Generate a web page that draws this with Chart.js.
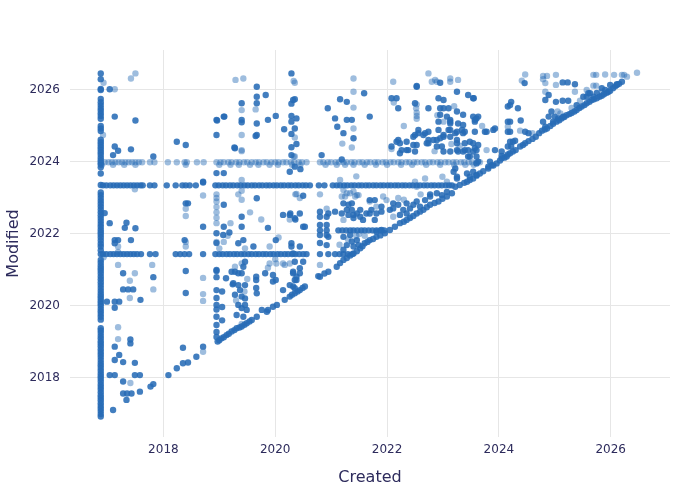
<!DOCTYPE html>
<html>
<head>
<meta charset="utf-8">
<script src="https://cdn.jsdelivr.net/npm/chart.js@4.4.1/dist/chart.umd.min.js"></script>
<style>
html,body{margin:0;padding:0;background:#fff;}
#wrap{width:700px;height:500px;}
</style>
</head>
<body>
<div id="wrap"><canvas id="c" width="700" height="500"></canvas></div>
<script>
// ---------- data (Created, Modified as decimal years) ----------
const xTicks = [2018, 2020, 2022, 2024, 2026];
const yTicks = [2018, 2020, 2022, 2024, 2026];

// vertical column of items created ~2016.88
const columnCreated = 2016.88;
const columnModified = [2016.93,2017.0,2017.08,2017.15,2017.22,2017.3,2017.38,2017.45,2017.52,2017.6,2017.68,2017.75,2017.82,2017.9,2017.98,2018.05,2018.12,2018.2,2018.28,2018.35,2018.42,2018.5,2018.58,2018.65,2018.72,2018.8,2018.88,2018.95,2019.02,2019.1,2019.17,2019.25,2019.32,2019.38,2019.62,2019.7,2019.78,2019.85,2019.92,2020.0,2020.06,2020.13,2020.2,2020.27,2020.34,2020.42,2020.5,2020.58,2020.66,2020.74,2020.82,2020.9,2020.98,2021.05,2021.12,2021.2,2021.28,2021.44,2021.55,2021.65,2021.73,2021.82,2021.9,2021.98,2022.05,2022.12,2022.2,2022.28,2022.36,2022.44,2022.52,2022.6,2022.68,2022.76,2022.84,2022.92,2023.0,2023.08,2023.15,2023.36,2023.68,2023.85,2023.93,2023.98,2024.05,2024.12,2024.2,2024.27,2024.34,2024.41,2024.48,2024.55,2024.62,2024.86,2024.93,2025.0,2025.2,2025.28,2025.35,2025.43,2025.5,2025.58,2025.66,2025.75,2026.0,2026.03,2026.3,2026.46];

// horizontal bands (many items modified on the same date)
const bandTopModified = 2023.99;
const bandTopCreated = [2016.95,2017.02,2017.08,2017.14,2017.2,2017.26,2017.32,2017.38,2017.44,2017.5,2017.56,2017.62,2017.76,2017.84,2018.08,2018.24,2018.38,2018.42,2018.6,2018.72,2018.95,2019.02,2019.08,2019.16,2019.22,2019.3,2019.36,2019.44,2019.5,2019.58,2019.65,2019.71,2019.79,2019.85,2019.93,2020.0,2020.06,2020.14,2020.2,2020.28,2020.34,2020.42,2020.48,2020.56,2020.8,2020.86,2020.94,2021.0,2021.08,2021.14,2021.22,2021.28,2021.36,2021.42,2021.5,2021.56,2021.64,2021.7,2021.78,2021.84,2021.92,2021.98,2022.06,2022.12,2022.2,2022.26,2022.34,2022.4,2022.48,2022.54,2022.62,2022.68,2022.76,2022.82,2022.9,2022.96,2023.04,2023.1,2023.18,2023.24,2023.32,2023.38,2023.46,2023.52,2023.6,2023.66];
const bandTop2Modified = 2023.92;
const bandTop2Created = [2016.9,2017.1,2017.3,2017.5,2018.4,2019.0,2019.2,2019.35,2019.55,2019.7,2019.9,2020.05,2020.3,2020.45,2020.9,2021.1,2021.25,2021.4,2021.6,2021.8,2022.0,2022.25,2022.45,2022.7,2022.95,2023.2,2023.4,2023.55];
const bandMidModified = 2023.35;
const bandMidCreated = [2016.92,2016.98,2017.05,2017.11,2017.17,2017.23,2017.29,2017.35,2017.41,2017.47,2017.53,2017.59,2017.63,2017.76,2017.84,2018.06,2018.22,2018.34,2018.4,2018.47,2018.58,2018.93,2018.99,2019.06,2019.12,2019.19,2019.25,2019.32,2019.38,2019.45,2019.51,2019.58,2019.64,2019.71,2019.77,2019.84,2019.9,2019.97,2020.03,2020.1,2020.16,2020.23,2020.29,2020.36,2020.42,2020.49,2020.55,2020.62,2020.78,2020.88,2021.03,2021.1,2021.16,2021.23,2021.29,2021.36,2021.42,2021.49,2021.55,2021.62,2021.68,2021.75,2021.81,2021.88,2021.94,2022.01,2022.07,2022.14,2022.2,2022.27,2022.33,2022.4,2022.46,2022.53,2022.59,2022.66,2022.72,2022.79,2022.85,2022.92,2022.98,2023.05,2023.11,2023.16];
const bandLowModified = 2021.44;
const bandLowCreated = [2016.92,2016.98,2017.05,2017.11,2017.17,2017.23,2017.29,2017.35,2017.41,2017.47,2017.53,2017.6,2017.76,2017.86,2018.22,2018.3,2018.38,2018.46,2018.71,2018.93,2019.0,2019.06,2019.13,2019.19,2019.26,2019.32,2019.39,2019.45,2019.52,2019.58,2019.65,2019.71,2019.78,2019.84,2019.91,2019.97,2020.04,2020.1,2020.17,2020.23,2020.3,2020.36,2020.43,2020.5,2020.56,2020.8,2020.95,2021.07,2021.15,2021.22,2021.3,2021.38];
const band2022Modified = 2022.1;
const band2022Created = [2020.8,2020.92,2021.13,2021.2,2021.27,2021.34,2021.4,2021.47,2021.54,2021.6,2021.67,2021.74,2021.81,2021.88,2021.95];

// items modified right after creation
const diagonalPts = [[2017.34,2017.39],[2017.77,2017.76],[2017.82,2017.83],[2018.09,2018.08],[2018.24,2018.27],[2018.35,2018.41],[2018.44,2018.43],[2018.59,2018.59],
[2018.97,2019.01],[2019.0,2019.05],[2019.04,2019.10],[2019.08,2019.13],[2019.13,2019.19],[2019.17,2019.23],[2019.22,2019.29],[2019.27,2019.33],[2019.31,2019.38],[2019.36,2019.4],[2019.40,2019.43],[2019.45,2019.48],[2019.49,2019.52],[2019.54,2019.57],[2019.58,2019.61],[2019.67,2019.70],[2019.76,2019.89],[2019.85,2019.84],[2019.96,2019.98],[2020.03,2020.03],[2020.17,2020.17],[2020.26,2020.26],[2020.3,2020.31],[2020.35,2020.35],[2020.4,2020.4],[2020.44,2020.44],[2020.49,2020.5],[2020.53,2020.54],[2020.77,2020.83],[2020.80,2020.81],[2020.88,2020.9],[2020.95,2020.95],
[2021.10,2021.09],[2021.16,2021.19],[2021.22,2021.28],[2021.28,2021.33],[2021.34,2021.4],[2021.40,2021.46],[2021.46,2021.52],[2021.52,2021.6],[2021.56,2021.66],[2021.60,2021.74],[2021.65,2021.78],[2021.69,2021.83],[2021.75,2021.86],[2021.81,2021.92],[2021.88,2021.96],[2021.96,2022.02],[2022.05,2022.11],[2022.14,2022.20],[2022.23,2022.30],[2022.3,2022.34],[2022.35,2022.39],[2022.41,2022.44],[2022.47,2022.5],[2022.53,2022.57],[2022.59,2022.62],[2022.65,2022.67],[2022.71,2022.74],[2022.77,2022.81],[2022.85,2022.86],[2022.92,2022.90],[2022.99,2022.98],[2023.07,2023.04],[2023.16,2023.13],
[2023.22,2023.31],[2023.3,2023.36],[2023.38,2023.42],[2023.43,2023.45],[2023.48,2023.5],[2023.54,2023.54],[2023.6,2023.62],[2023.66,2023.68],[2023.72,2023.74],[2023.81,2023.82],[2023.9,2023.9],[2023.96,2023.96],[2024.02,2024.04],[2024.05,2024.10],[2024.1,2024.12],[2024.14,2024.15],[2024.2,2024.24],[2024.25,2024.29],[2024.3,2024.33],[2024.38,2024.43],[2024.43,2024.47],[2024.47,2024.52],[2024.53,2024.58],[2024.6,2024.64],[2024.66,2024.7],[2024.72,2024.8],[2024.77,2024.87],[2024.82,2024.9],[2024.86,2024.93],[2024.92,2025.0],[2024.97,2025.06],[2025.03,2025.12],[2025.08,2025.16],[2025.12,2025.21],[2025.17,2025.25],[2025.21,2025.3],[2025.26,2025.33],[2025.30,2025.36],[2025.35,2025.4],[2025.39,2025.44],[2025.44,2025.5],[2025.48,2025.54],[2025.53,2025.58],[2025.57,2025.63],[2025.62,2025.67],[2025.66,2025.72],[2025.7,2025.74],[2025.75,2025.77],[2025.8,2025.81],[2025.84,2025.84],[2025.88,2025.88],[2025.93,2025.92],[2025.96,2025.95],[2025.99,2025.98],[2026.04,2026.05],[2026.08,2026.1],[2026.11,2026.14],[2026.15,2026.17]];

// scattered items drawn as repeated (darker) marks
const denseItems = [[2017.04,2026.02],[2017.13,2025.26],[2017.50,2025.15],[2017.13,2024.43],[2017.19,2024.31],[2017.10,2024.19],[2017.42,2024.35],[2017.82,2024.15],[2016.95,2022.58],[2017.04,2022.30],[2017.31,2022.17],[2017.34,2022.31],[2017.50,2022.16],[2017.13,2021.83],[2017.19,2021.83],[2017.42,2021.83],[2017.13,2021.74],[2017.28,2020.91],[2017.28,2020.46],[2017.37,2020.46],[2017.46,2020.46],[2017.59,2020.17],[2016.99,2020.12],[2017.13,2020.12],[2017.21,2020.12],[2017.13,2019.95],[2017.82,2020.80],[2017.13,2018.87],[2017.41,2019.07],[2017.41,2018.96],[2017.21,2018.64],[2017.13,2018.50],[2017.28,2018.44],[2017.49,2018.42],[2017.04,2018.08],[2017.13,2018.08],[2017.49,2018.08],[2017.58,2018.08],[2017.28,2017.90],[2017.28,2017.57],[2017.35,2017.57],[2017.43,2017.57],[2017.10,2017.11],[2017.58,2017.62],
[2018.24,2024.56],[2018.40,2024.47],[2018.40,2022.85],[2018.44,2022.85],[2018.71,2023.45],[2018.71,2022.20],[2018.38,2021.83],[2018.40,2020.97],[2018.40,2020.36],[2018.71,2018.87],[2018.35,2018.84],
[2018.95,2024.75],[2018.95,2025.17],[2019.08,2025.26],[2018.95,2023.69],[2019.08,2023.69],[2019.08,2022.81],[2019.08,2022.20],[2018.95,2022.02],[2019.07,2021.97],[2019.18,2022.04],[2019.27,2024.40],[2019.40,2025.63],[2019.40,2025.10],[2019.67,2026.09],[2019.67,2025.81],[2019.67,2025.63],[2019.67,2025.07],[2019.67,2024.75],[2019.83,2025.86],[2019.87,2025.17],[2020.01,2025.28],[2019.67,2022.99],[2019.40,2022.48],[2019.40,2022.2],[2019.43,2021.83],[2019.87,2022.17],[2020.01,2021.83],[2020.16,2024.91],[2020.29,2026.46],[2020.32,2025.72],[2020.29,2025.62],[2020.35,2025.74],[2020.29,2025.28],[2020.38,2025.21],[2020.29,2025.12],[2020.29,2024.78],[2020.35,2024.93],[2020.29,2024.41],[2020.38,2024.50],[2020.29,2024.19],[2020.26,2023.73],[2020.35,2023.87],[2020.45,2023.80],[2020.27,2022.57],[2020.36,2022.4],[2020.29,2021.65],[2020.44,2021.65],[2020.50,2022.20],[2019.28,2024.38],[2018.95,2021.0],[2019.22,2020.95],[2019.28,2020.95],[2019.12,2020.77],[2019.24,2020.6],[2018.95,2021.75],[2018.95,2020.97],[2018.95,2020.8],[2018.95,2020.44],[2019.05,2020.4],[2018.95,2020.22],[2018.95,2020.03],[2019.05,2019.97],[2018.95,2019.9],[2018.95,2019.7],[2019.05,2019.6],[2018.95,2019.47],[2018.95,2019.28],[2018.95,2019.14],[2019.34,2020.91],[2019.40,2020.91],[2019.25,2020.63],[2019.34,2020.58],[2019.46,2020.58],[2019.37,2020.44],[2019.28,2020.31],[2019.40,2020.26],[2019.46,2020.21],[2019.34,2020.03],[2019.46,2020.03],[2019.40,2019.94],[2019.49,2019.89],[2019.31,2019.75],[2019.43,2019.70],[2019.67,2020.35],[2019.87,2019.89],[2019.82,2020.91],[2019.96,2020.86],[2019.96,2020.68],[2020.14,2020.44],[2020.32,2020.54],[2020.38,2020.72],[2020.32,2020.91],[2020.44,2021.05],[2020.50,2021.23],[2019.46,2021.23],[2019.43,2021.09],[2019.61,2021.65],[2019.34,2021.74],[2020.35,2020.72],[2020.26,2020.58],[2020.44,2020.91],[2019.66,2020.81],[2019.66,2020.72],[2019.66,2020.5],[2020.01,2020.72],[2020.14,2022.53],[2020.26,2022.53],[2020.35,2022.44],[2020.44,2022.57],[2020.53,2022.2],[2020.50,2023.06],[2020.29,2021.74],[2020.32,2021.46],[2020.35,2021.23],[2020.32,2020.95],[2020.38,2020.81],[2020.35,2020.49],[2019.09,2025.26],[2018.96,2025.15],[2019.40,2025.17],[2019.65,2024.72],[2018.71,2023.43],
[2020.80,2022.48],[2020.92,2022.48],[2020.80,2022.62],[2020.95,2022.57],[2020.80,2022.25],[2020.92,2022.25],[2020.80,2021.97],[2020.92,2021.97],[2020.80,2021.75],[2020.92,2021.69],[2020.95,2021.92],[2020.83,2024.19],[2020.94,2025.49],[2021.16,2025.74],[2021.28,2025.67],[2021.59,2025.91],[2021.07,2025.21],[2021.28,2025.17],[2021.37,2025.17],[2021.69,2025.26],[2021.11,2024.98],[2021.22,2024.80],[2021.40,2024.66],[2021.19,2024.07],[2021.07,2022.62],[2021.19,2022.57],[2021.28,2022.67],[2021.31,2022.53],[2021.40,2022.53],[2021.46,2022.57],[2021.52,2022.48],[2021.69,2022.57],[2021.78,2022.39],[2021.90,2022.62],[2021.69,2022.94],[2021.78,2022.94],[2021.22,2022.85],[2021.37,2022.85],[2021.31,2022.81],[2021.37,2022.67],[2021.40,2022.44],[2021.52,2022.67],[2021.63,2022.57],[2021.72,2022.67],[2021.81,2022.57],[2021.90,2022.76],[2022.05,2022.67],[2021.57,2022.39],
[2021.22,2021.92],[2021.34,2021.97],[2021.37,2021.79],[2021.46,2021.83],[2021.49,2021.69],[2021.28,2021.69],[2021.40,2021.65],[2021.22,2021.56],[2021.81,2022.07],[2021.90,2022.11],
[2022.11,2022.71],[2022.20,2022.81],[2022.35,2022.85],[2022.29,2022.67],[2022.41,2022.71],[2022.47,2022.81],[2022.53,2022.90],[2022.59,2022.76],[2022.68,2022.94],[2022.77,2023.04],[2022.89,2023.13],[2022.98,2023.08],[2023.07,2023.17],[2022.23,2022.53],[2022.35,2022.57],[2022.11,2022.85],[2022.77,2023.1],
[2022.08,2025.77],[2022.17,2025.77],[2022.20,2025.49],[2022.53,2026.09],[2022.95,2026.2],[2023.25,2025.95],[2022.92,2025.77],[2023.01,2025.72],[2023.10,2025.49],[2023.01,2025.49],[2023.07,2025.26],[2022.92,2025.12],[2023.13,2025.12],[2023.25,2025.40],[2023.36,2025.31],[2023.45,2025.86],[2023.54,2025.77],[2023.54,2025.26],[2023.60,2025.21],[2023.75,2024.84],[2023.90,2024.89],[2022.08,2024.43],[2022.17,2024.56],[2022.23,2024.52],[2022.35,2024.56],[2022.47,2024.70],[2022.56,2024.80],[2022.65,2024.75],[2022.74,2024.84],[2022.53,2024.47],[2022.74,2024.52],[2022.83,2024.61],[2022.95,2024.66],[2023.01,2024.75],[2023.10,2024.89],[2023.13,2024.70],[2023.22,2024.80],[2023.25,2024.61],[2023.36,2024.80],[2023.39,2024.52],[2023.48,2024.56],[2023.54,2024.52],[2023.57,2024.38],[2023.63,2024.47],[2023.25,2024.33],[2023.36,2024.29],[2023.45,2024.15],[2023.54,2024.29],[2023.60,2024.15],[2023.63,2024.01],[2023.22,2023.82],[2023.25,2023.59],[2023.43,2023.68],[2023.48,2023.59],[2023.54,2023.73],[2023.60,2023.64],[2023.55,2025.77],[2023.57,2024.84],[2023.78,2024.84],[2023.93,2024.93],[2023.48,2024.15],[2023.60,2023.96],[2023.57,2025.12],[2022.53,2026.11],[2022.50,2025.63],[2022.74,2025.49],[2022.95,2025.49],[2022.95,2025.31],[2023.13,2025.17],[2023.13,2025.07],[2023.27,2025.07],[2023.36,2025.03],[2023.63,2025.26],[2023.57,2025.17],[2022.92,2024.89],[2022.56,2024.89],[2022.68,2024.80],[2022.50,2024.75],[2022.74,2024.61],[2022.89,2024.61],[2023.01,2024.70],[2023.13,2024.89],[2023.25,2024.84],[2023.34,2024.89],[2023.39,2024.84],[2022.47,2024.47],[2022.35,2024.33],[2022.50,2024.29],[2022.71,2024.52],[2022.89,2024.43],[2022.98,2024.43],[2023.01,2024.29],[2023.13,2024.29],[2023.25,2024.52],[2023.27,2024.29],[2023.39,2024.33],[2023.45,2024.33],[2023.60,2024.33],[2023.93,2024.33],[2022.20,2024.61],[2022.26,2024.33],[2022.23,2024.24],[2022.38,2024.33],[2023.19,2023.73],[2023.25,2023.54],
[2024.46,2026.19],[2025.14,2026.21],[2025.23,2026.21],[2025.36,2026.16],[2025.99,2026.14],[2026.11,2026.16],[2026.20,2026.23],[2024.16,2025.54],[2024.22,2025.67],[2024.16,2025.12],[2024.39,2025.15],[2024.20,2024.84],[2024.47,2024.84],[2024.53,2024.80],[2024.20,2024.56],[2024.29,2024.59],[2024.22,2024.43],[2024.05,2024.29],[2024.05,2024.17],[2024.16,2024.21],[2024.83,2025.72],[2024.89,2025.86],[2025.02,2025.67],[2025.14,2025.70],[2025.24,2025.70],[2025.39,2025.58],[2025.51,2025.81],[2025.60,2025.91],[2024.94,2025.40],[2024.89,2025.26],[2025.00,2025.26],[2025.06,2025.21],[2024.97,2025.12],[2025.15,2025.26],[2024.79,2025.12],[2024.83,2024.98],[2025.57,2025.81],[2025.69,2025.81],[2025.63,2025.91],[2025.75,2025.92],[2025.84,2026.05],[2025.90,2026.0],[2024.20,2025.12],[2024.16,2024.84],[2024.16,2024.43],[2024.25,2024.56],[2024.20,2025.58],[2024.34,2025.49],[2023.87,2023.91],[2023.84,2024.01],[2023.81,2023.87]];

// scattered single items
const singleItems = [[2017.13,2026.02],[2017.42,2026.32],[2017.50,2026.46],[2017.49,2023.24],[2017.19,2021.5],[2017.19,2021.14],[2017.49,2020.91],[2017.40,2020.22],[2017.40,2020.7],[2017.80,2021.14],[2017.82,2020.46],[2017.19,2019.41],[2017.19,2019.08],[2017.41,2017.86],[2017.19,2021.65],[2016.93,2026.2],[2016.92,2024.75],[2016.93,2021.35],
[2018.40,2022.7],[2018.40,2022.5],[2018.71,2023.07],[2018.40,2021.65],[2018.40,2021.78],[2018.71,2020.78],[2018.71,2020.33],[2018.71,2020.14],[2018.71,2018.73],
[2018.95,2023.0],[2018.95,2022.9],[2018.95,2022.75],[2018.95,2022.6],[2018.95,2022.3],[2018.95,2023.1],[2018.95,2021.78],[2019.08,2021.78],[2019.40,2024.30],[2019.29,2026.28],[2019.43,2026.32],[2019.40,2023.5],[2019.40,2023.2],[2019.40,2022.95],[2019.40,2024.75],[2019.40,2025.44],[2019.65,2025.46],[2020.06,2021.9],[2020.33,2026.25],[2020.35,2026.20],[2020.33,2024.15],[2020.36,2023.1],[2020.44,2023.0],[2020.26,2022.4],[2020.38,2023.11],[2019.34,2023.1],[2019.40,2021.18],[2019.28,2021.09],[2019.46,2021.6],[2019.9,2021.18],[2020.02,2021.18],[2020.14,2021.18],[2020.26,2021.18],[2019.87,2021.06],[2020.0,2021.3],[2020.17,2021.14],[2019.40,2024.33],[2020.35,2024.68],[2020.35,2024.15],[2019.40,2019.5],[2019.3,2020.15],[2019.45,2020.4],[2019.5,2020.75],[2019.55,2022.6],[2019.75,2022.4],[2019.9,2021.65],[2018.95,2022.45],[2019.0,2021.6],[2019.15,2021.95],[2019.2,2022.3],
[2020.80,2021.14],[2021.40,2026.32],[2021.40,2025.95],[2021.40,2025.51],[2021.40,2024.93],[2021.20,2024.51],[2021.37,2024.4],[2021.25,2023.04],[2021.34,2023.13],[2021.46,2023.08],[2021.22,2023.22],[2021.19,2023.04],[2021.28,2023.13],[2021.40,2023.18],[2021.43,2023.04],[2021.49,2023.08],[2021.69,2022.90],[2021.81,2022.76],[2021.93,2023.04],[2021.99,2022.94],[2021.22,2022.39],[2020.92,2022.7],[2020.8,2023.1],[2021.16,2023.5],[2021.45,2023.6],
[2021.3,2021.85],[2021.45,2021.95],[2021.15,2021.7],[2021.5,2022.0],[2021.6,2021.95],
[2022.11,2022.48],[2022.41,2022.48],[2022.50,2023.45],[2022.53,2023.31],[2022.68,2023.54],[2022.99,2023.59],[2023.07,2023.45],[2022.3,2022.95],[2022.2,2023.0],[2022.6,2023.1],
[2022.11,2026.23],[2022.53,2025.60],[2022.53,2025.37],[2022.53,2025.28],[2022.74,2026.46],[2022.80,2026.23],[2022.89,2026.23],[2023.13,2026.32],[2023.27,2026.28],[2023.13,2026.23],[2022.86,2026.28],[2022.52,2025.49],[2022.53,2025.2],[2023.01,2025.12],[2023.78,2024.33],[2022.08,2024.36],[2022.12,2025.65],[2022.3,2025.0],[2022.9,2025.3],[2023.2,2025.55],[2023.7,2025.0],[2022.85,2024.3],[2023.3,2024.45],[2023.15,2024.5],
[2024.47,2026.43],[2024.41,2026.26],[2024.79,2026.39],[2024.86,2026.39],[2025.02,2026.42],[2024.83,2026.19],[2025.02,2026.14],[2024.79,2026.3],[2025.69,2026.42],[2025.74,2026.42],[2025.90,2026.43],[2026.06,2026.42],[2026.20,2026.42],[2026.24,2026.42],[2026.29,2026.37],[2026.47,2026.48],[2025.69,2026.12],[2025.74,2026.12],[2025.36,2025.95],[2024.16,2024.98],[2024.38,2024.87],[2024.83,2025.95],[2025.05,2025.40],[2025.57,2026.0],[2025.3,2025.5],[2025.45,2025.7],[2025.1,2025.35],[2024.6,2024.8],[2025.84,2025.95]];

// ---------- build library data ----------
const toXY = p => ({x: p[0], y: p[1]});
const denseData = []
  .concat(columnModified.map(m => ({x: columnCreated, y: m})))
  .concat(bandMidCreated.map(c => ({x: c, y: bandMidModified})))
  .concat(bandLowCreated.map(c => ({x: c, y: bandLowModified})))
  .concat(band2022Created.map(c => ({x: c, y: band2022Modified})))
  .concat(diagonalPts.map(toXY))
  .concat(denseItems.map(toXY));
const singleData = []
  .concat(bandTopCreated.map(c => ({x: c, y: bandTopModified})))
  .concat(bandTop2Created.map(c => ({x: c, y: bandTop2Modified})))
  .concat(singleItems.map(toXY));

const TEXT = '#2d2b5c';
const GRID = '#e6e6e6';
const FONT = 'DejaVu Sans';

new Chart(document.getElementById('c'), {
  type: 'scatter',
  data: {
    datasets: [
      {data: denseData, backgroundColor: 'rgba(40,108,182,0.88)', borderWidth: 0, pointRadius: 3.2, pointHoverRadius: 3.2},
      {data: singleData, backgroundColor: 'rgba(40,108,182,0.45)', borderWidth: 0, pointRadius: 3.2, pointHoverRadius: 3.2}
    ]
  },
  options: {
    responsive: false,
    animation: false,
    events: [],
    layout: {padding: {top: 50, right: 30, left: 0, bottom: 0}},
    plugins: {legend: {display: false}, tooltip: {enabled: false}},
    scales: {
      x: {
        type: 'linear', min: 2016.33, max: 2027.06,
        afterBuildTicks: s => { s.ticks = xTicks.map(v => ({value: v})); },
        afterFit: s => { s.height = 63; },
        grid: {color: GRID, drawTicks: false, lineWidth: 1},
        border: {display: false},
        ticks: {color: TEXT, font: {family: FONT, size: 12}, padding: 6, maxRotation: 0, callback: v => String(v)},
        title: {display: true, text: 'Created', color: TEXT, font: {family: FONT, size: 16}, padding: {top: 0, bottom: 13}}
      },
      y: {
        type: 'linear', min: 2016.36, max: 2027.11,
        afterBuildTicks: s => { s.ticks = yTicks.map(v => ({value: v})); },
        afterFit: s => { s.width = 70; },
        grid: {color: GRID, drawTicks: false, lineWidth: 1},
        border: {display: false},
        ticks: {color: TEXT, font: {family: FONT, size: 12}, padding: 10, callback: v => String(v)},
        title: {display: true, text: 'Modified', color: TEXT, font: {family: FONT, size: 16}, padding: {top: 4, bottom: 4}}
      }
    }
  }
});
</script>
</body>
</html>
